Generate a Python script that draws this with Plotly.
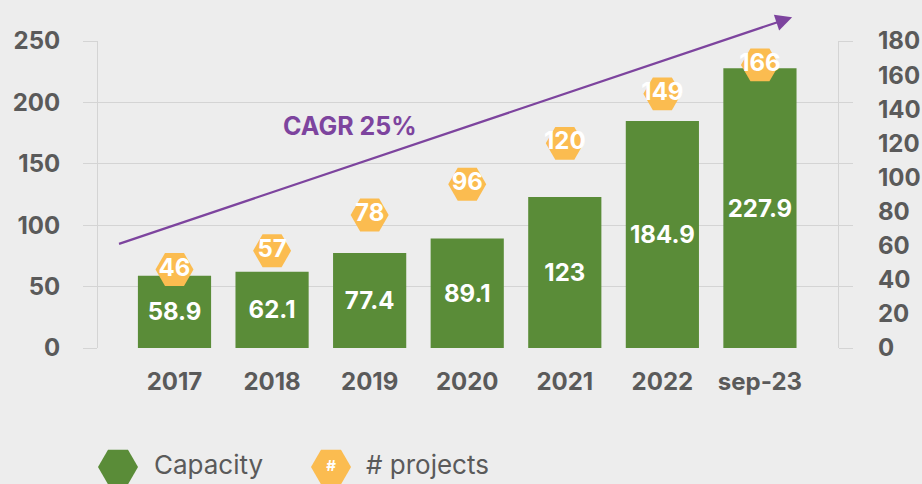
import plotly.graph_objects as go

categories = ["2017", "2018", "2019", "2020", "2021", "2022", "sep-23"]
capacity = [58.9, 62.1, 77.4, 89.1, 123, 184.9, 227.9]
projects = [46, 57, 78, 96, 120, 149, 166]
capacity_labels = ["58.9", "62.1", "77.4", "89.1", "123", "184.9", "227.9"]
left_ticks = [0, 50, 100, 150, 200, 250]
right_ticks = [0, 20, 40, 60, 80, 100, 120, 140, 160, 180]
legend_names = ["Capacity", "# projects"]

GREEN = "#5A8C38"
ORANGE = "#FBBC50"
PURPLE = "#7D449E"
GRAY = "#5A5A5A"
GRID = "#D4D4D4"
BG = "#EDEDED"
FONT = "Inter"

fig = go.Figure()

fig.add_trace(go.Bar(
    x=categories, y=capacity, marker=dict(color=GREEN, line=dict(width=0)),
    text=capacity_labels, textposition="inside", insidetextanchor="middle",
    constraintext="none", textangle=0,
    textfont=dict(family=FONT, size=24, color="white", weight="bold"),
    showlegend=False, hoverinfo="skip",
))

fig.add_trace(go.Scatter(
    x=categories, y=projects, yaxis="y2", mode="markers+text",
    marker=dict(symbol="hexagon2", size=38, color=ORANGE, line=dict(width=0)),
    text=[str(v) for v in projects], textposition="middle center",
    textfont=dict(family=FONT, size=24, color="white", weight="bold"),
    cliponaxis=False, showlegend=False, hoverinfo="skip",
))

# custom legend drawn on a helper axis (pixel-like coordinates)
fig.add_trace(go.Scatter(
    x=[118, 331], y=[467, 467], xaxis="x3", yaxis="y3", mode="markers+text",
    marker=dict(symbol="hexagon2", size=40, color=[GREEN, ORANGE], line=dict(width=0)),
    text=["", "#"], textposition="middle center",
    textfont=dict(family=FONT, size=15, color="white", weight="bold"),
    cliponaxis=False, showlegend=False, hoverinfo="skip",
))
fig.add_trace(go.Scatter(
    x=[154, 366], y=[468, 468], xaxis="x3", yaxis="y3", mode="text",
    text=legend_names, textposition="middle right",
    textfont=dict(family=FONT, size=26, color=GRAY),
    cliponaxis=False, showlegend=False, hoverinfo="skip",
))

annotations = [
    # CAGR arrow
    dict(x=6.33, y=269.3, xref="x", yref="y", ax=-0.584, ay=84.4, axref="x", ayref="y",
         text="", showarrow=True, arrowhead=2, arrowsize=1.5, arrowwidth=2.2,
         arrowcolor=PURPLE, standoff=0, startstandoff=0),
    dict(x=1.80, y=181, xref="x", yref="y", text="CAGR 25%", showarrow=False,
         font=dict(family=FONT, size=25, color=PURPLE, weight="bold")),
]

M_T, M_B, M_L, M_R = 41, 4, 98, 84
H, W = 484, 922
ph = H - M_T - M_B
main_bottom = (H - M_B - 348) / ph

fig.update_layout(
    width=W, height=H,
    margin=dict(l=M_L, r=M_R, t=M_T, b=M_B, pad=0, autoexpand=False),
    paper_bgcolor=BG, plot_bgcolor=BG,
    bargap=0.25,
    annotations=annotations,
    xaxis=dict(
        type="category", range=[-0.784, 6.80], anchor="y", automargin=False,
        showgrid=False, showline=False, zeroline=False,
        ticks="outside", ticklen=0, ticklabelstandoff=12,
        tickfont=dict(family=FONT, size=24, color=GRAY, weight="bold"),
    ),
    yaxis=dict(
        domain=[main_bottom, 1], range=[0, 250], tickvals=left_ticks, automargin=False,
        showgrid=True, gridcolor=GRID, gridwidth=1, zeroline=False,
        showline=True, linecolor=GRID, linewidth=1, mirror="ticks",
        ticks="outside", ticklen=14, tickcolor=GRID, tickwidth=1,
        ticklabelstandoff=18,
        tickfont=dict(family=FONT, size=24, color=GRAY, weight="bold"),
    ),
    yaxis2=dict(
        overlaying="y", side="right", range=[0, 180], tickvals=right_ticks, automargin=False,
        showgrid=False, zeroline=False, showline=False, ticks="",
        ticklabelstandoff=39,
        tickfont=dict(family=FONT, size=24, color=GRAY, weight="bold"),
    ),
    xaxis3=dict(domain=[0, 1], anchor="y3", range=[M_L, W - M_R], visible=False,
                automargin=False),
    yaxis3=dict(domain=[0, 0.1], anchor="x3", automargin=False,
                range=[H - M_B, H - M_B - 0.1 * ph], visible=False),
)

fig.write_html(
    "out.html",
    config={"displayModeBar": False},
    post_script="document.body.style.margin='0';document.body.style.overflow='hidden';",
)
